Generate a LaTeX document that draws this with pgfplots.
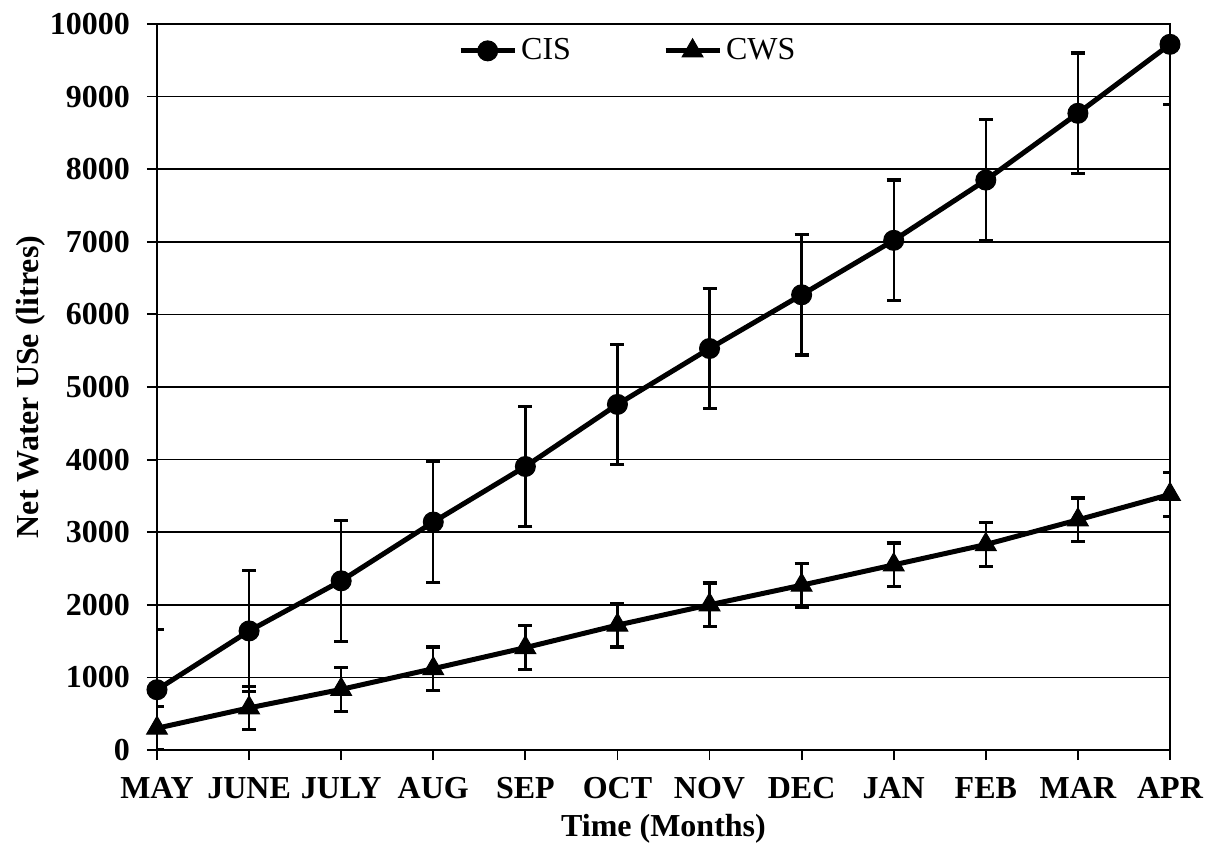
\documentclass[border=0pt]{standalone}
\usepackage{pgfplots}
\pgfplotsset{compat=1.18}
\usepackage{fontspec}
\setmainfont{Liberation Serif}

\begin{document}
\begin{tikzpicture}
\begin{axis}[
  scale only axis,
  width=506.5pt, height=363pt,
  xmin=0, xmax=11,
  ymin=0, ymax=10000,
  xtick={0,...,11},
  xticklabels={MAY,JUNE,JULY,AUG,SEP,OCT,NOV,DEC,JAN,FEB,MAR,APR},
  ytick={0,1000,...,10000},
  /pgf/number format/assume math mode=true,
  /pgf/number format/1000 sep={},
  scaled y ticks=false,
  tick label style={font=\bfseries\fontsize{16}{18}\selectfont},
  label style={font=\bfseries\fontsize{16}{18}\selectfont},
  xticklabel style={yshift=-5pt},
  yticklabel style={xshift=-5pt},
  xlabel={Time (Months)},
  ylabel={Net Water USe (litres)},
  xlabel style={yshift=-1pt},
  ylabel style={yshift=-4.5pt},
  tick align=outside,
  major tick length=5pt,
  xtick pos=bottom, ytick pos=left,
  ymajorgrids,
  grid style={black, line width=0.8pt},
  axis line style={black, line width=0.9pt},
  major tick style={black, line width=0.9pt},
  clip=true,
  clip marker paths=false,
  legend style={at={(0.291,0.963)}, anchor=west, draw=none, fill=none,
    font=\fontsize{16}{18}\selectfont, legend columns=2,
    /tikz/every even column/.append style={column sep=44pt}},
  legend image code/.code={
    \draw[line width=2.5pt] (0cm,0cm) -- (0.95cm,0cm);
    \draw[#1, line width=0.5pt] plot coordinates {(0.475cm,0cm)};
  },
]
\addplot[black, line width=2.5pt, mark=*, mark size=5pt,
  mark options={solid, line width=0.5pt},
  error bars/.cd, y dir=both, y explicit,
  error bar style={line width=1.2pt, black},
  error mark options={rotate=90, line width=1.6pt, mark size=3.5pt, black}]
  coordinates {
  (0,830)  +- (0,830)
  (1,1640) +- (0,830)
  (2,2330) +- (0,830)
  (3,3140) +- (0,830)
  (4,3905) +- (0,830)
  (5,4760) +- (0,830)
  (6,5530) +- (0,830)
  (7,6270) +- (0,830)
  (8,7020) +- (0,830)
  (9,7850) +- (0,830)
  (10,8770) +- (0,830)
  (11,9720) +- (0,830)
};
\addlegendentry{CIS}
\addplot[black, line width=2.5pt, mark=triangle*, mark size=6pt,
  mark options={solid, line width=0.5pt},
  error bars/.cd, y dir=both, y explicit,
  error bar style={line width=1.2pt, black},
  error mark options={rotate=90, line width=1.6pt, mark size=3.5pt, black}]
  coordinates {
  (0,300)  +- (0,300)
  (1,580)  +- (0,300)
  (2,835)  +- (0,300)
  (3,1120) +- (0,300)
  (4,1410) +- (0,300)
  (5,1720) +- (0,300)
  (6,2000) +- (0,300)
  (7,2270) +- (0,300)
  (8,2550) +- (0,300)
  (9,2830) +- (0,300)
  (10,3170) +- (0,300)
  (11,3520) +- (0,300)
};
\addlegendentry{CWS}
\end{axis}
% page margins around the plot area
\path ([xshift=-78.5pt,yshift=-46pt]current axis.south west)
  rectangle ([xshift=21pt,yshift=12pt]current axis.north east);
\end{tikzpicture}
\end{document}
